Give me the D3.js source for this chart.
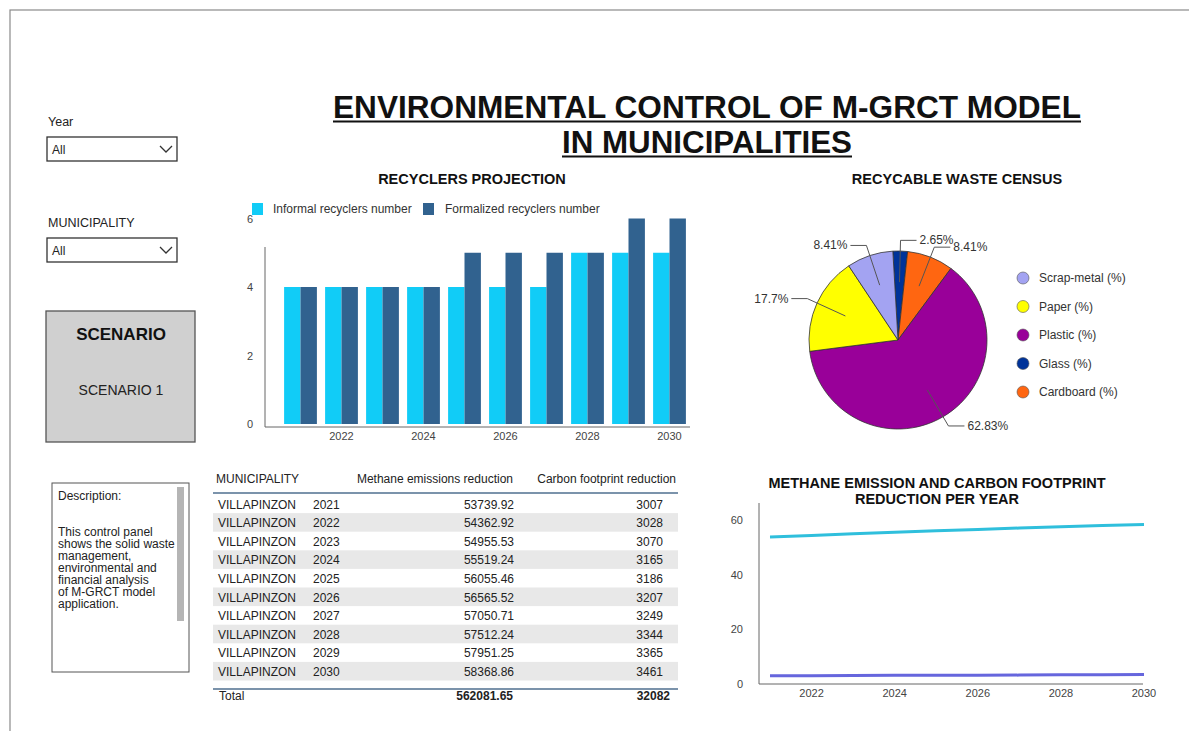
<!doctype html>
<html lang="en">
<head>
<meta charset="utf-8">
<script src="https://cdnjs.cloudflare.com/ajax/libs/d3/7.8.5/d3.min.js"></script>
<style>
  body { margin: 0; background: #fff; font-family: 'Liberation Sans', Arial, sans-serif; }
  svg text { font-family: 'Liberation Sans', Arial, sans-serif; }
  .tick-label { fill: #444; font-size: 11px; }
</style>
</head>
<body>
<script>
// ---- data ----
const years = [2021, 2022, 2023, 2024, 2025, 2026, 2027, 2028, 2029, 2030];
const informalRecyclers = [4, 4, 4, 4, 4, 4, 4, 5, 5, 5];
const formalizedRecyclers = [4, 4, 4, 4, 5, 5, 5, 5, 6, 6];
const barSeries = ["Informal recyclers number", "Formalized recyclers number"];
const barYTicks = [0, 2, 4, 6];
const barXTicks = [2022, 2024, 2026, 2028, 2030];

const wasteCats = ["Scrap-metal (%)", "Paper (%)", "Plastic (%)", "Glass (%)", "Cardboard (%)"];
const wasteShare = [8.41, 17.7, 62.83, 2.65, 8.41];
const wasteColors = ["#a3a3f2", "#ffff00", "#990099", "#003399", "#ff6611"];
const pieOrder = [3, 4, 2, 1, 0]; // drawing order, clockwise from top

const municipality = "VILLAPINZON";
const methaneReduction = [53739.92, 54362.92, 54955.53, 55519.24, 56055.46, 56565.52, 57050.71, 57512.24, 57951.25, 58368.86];
const carbonReduction = [3007, 3028, 3070, 3165, 3186, 3207, 3249, 3344, 3365, 3461];
const lineYTicks = [0, 20, 40, 60];
const lineXTicks = [2022, 2024, 2026, 2028, 2030];

const W = 1189, H = 731;
const svg = d3.select("body").append("svg").attr("width", W).attr("height", H);

// frame
svg.append("rect").attr("x", 10).attr("y", 10).attr("width", 1200).attr("height", 760)
  .attr("fill", "none").attr("stroke", "#8a8a8a").attr("stroke-width", 1.2);

// ---- main title ----
const titleLines = [
  {t: "ENVIRONMENTAL CONTROL OF M-GRCT MODEL", y: 118, w: 748},
  {t: "IN MUNICIPALITIES", y: 153, w: 290}
];
titleLines.forEach(l => {
  svg.append("text").attr("x", 707).attr("y", l.y).attr("text-anchor", "middle")
    .attr("font-family", "'Liberation Sans Narrow', 'Arial Narrow', 'Liberation Sans', sans-serif")
    .attr("font-weight", "bold").attr("font-size", 32).attr("fill", "#111")
    .attr("textLength", l.w).attr("lengthAdjust", "spacingAndGlyphs").text(l.t);
  svg.append("line").attr("x1", 707 - l.w / 2).attr("x2", 707 + l.w / 2)
    .attr("y1", l.y + 3.5).attr("y2", l.y + 3.5).attr("stroke", "#111").attr("stroke-width", 2);
});

// ---- left panel: filters ----
function dropdown(label, y) {
  svg.append("text").attr("x", 48).attr("y", y).attr("font-size", 12.5).attr("fill", "#222").text(label);
  svg.append("rect").attr("x", 47).attr("y", y + 11).attr("width", 130).attr("height", 24)
    .attr("fill", "#fff").attr("stroke", "#333").attr("stroke-width", 1.3);
  svg.append("text").attr("x", 52).attr("y", y + 28).attr("font-size", 12).attr("fill", "#222").text("All");
  svg.append("polyline").attr("points", `${160},${y + 20} ${166},${y + 26} ${172},${y + 20}`)
    .attr("fill", "none").attr("stroke", "#333").attr("stroke-width", 1.3);
}
dropdown("Year", 126);
dropdown("MUNICIPALITY", 227);

// scenario box
svg.append("rect").attr("x", 46).attr("y", 311).attr("width", 149).attr("height", 131)
  .attr("fill", "#d0d0d0").attr("stroke", "#555").attr("stroke-width", 1.3);
svg.append("text").attr("x", 121).attr("y", 340).attr("text-anchor", "middle")
  .attr("font-size", 17).attr("font-weight", "bold").attr("fill", "#111").text("SCENARIO");
svg.append("text").attr("x", 121).attr("y", 395).attr("text-anchor", "middle")
  .attr("font-size", 14).attr("fill", "#222").text("SCENARIO 1");

// description box
svg.append("rect").attr("x", 52).attr("y", 483).attr("width", 137).attr("height", 189)
  .attr("fill", "#fff").attr("stroke", "#555").attr("stroke-width", 1);
svg.append("rect").attr("x", 177).attr("y", 487).attr("width", 7).attr("height", 134).attr("fill", "#b5b5b5");
svg.append("text").attr("x", 58).attr("y", 500).attr("font-size", 12).attr("fill", "#222").text("Description:");
const descLines = ["This control panel", "shows the solid waste", "management,", "environmental and",
  "financial analysis", "of M-GRCT model", "application."];
svg.append("g").selectAll("text").data(descLines).join("text")
  .attr("x", 58).attr("y", (d, i) => 536 + i * 12).attr("font-size", 12).attr("fill", "#222").text(d => d);

// ---- bar chart ----
svg.append("text").attr("x", 472).attr("y", 184).attr("text-anchor", "middle")
  .attr("font-size", 14.5).attr("font-weight", "bold").attr("fill", "#111").text("RECYCLERS PROJECTION");

const bx = d3.scaleBand().domain(years).range([280, 690]).paddingInner(0.2).paddingOuter(0.1);
const bSub = d3.scaleBand().domain([0, 1]).range([0, bx.bandwidth()]);
const by = d3.scaleLinear().domain([0, 6]).range([424, 218.5]);
const barColors = ["#11ccf7", "#31628f"];

const barData = years.map((y, i) => ({year: y, vals: [informalRecyclers[i], formalizedRecyclers[i]]}));
const groups = svg.append("g").selectAll("g").data(barData).join("g")
  .attr("transform", d => `translate(${bx(d.year)},0)`);
groups.selectAll("rect").data(d => d.vals).join("rect")
  .attr("x", (d, i) => bSub(i)).attr("width", bSub.bandwidth())
  .attr("y", d => by(d)).attr("height", d => by(0) - by(d))
  .attr("fill", (d, i) => barColors[i]);

// axes lines
svg.append("line").attr("x1", 265).attr("x2", 690).attr("y1", 427).attr("y2", 427).attr("stroke", "#666");
svg.append("line").attr("x1", 265).attr("x2", 265).attr("y1", 247).attr("y2", 427).attr("stroke", "#666");
svg.append("g").selectAll("text").data(barYTicks).join("text").attr("class", "tick-label")
  .attr("x", 253).attr("y", d => by(d) + 4).attr("text-anchor", "end").text(d => d);
svg.append("g").selectAll("text").data(barXTicks).join("text").attr("class", "tick-label")
  .attr("x", d => bx(d) + bx.bandwidth() / 2).attr("y", 440).attr("text-anchor", "middle").text(d => d);

// legend
const bl = svg.append("g");
[[252, 273], [423, 445]].forEach((p, i) => {
  bl.append("rect").attr("x", p[0]).attr("y", 203).attr("width", 11).attr("height", 12).attr("fill", barColors[i]);
  bl.append("text").attr("x", p[1]).attr("y", 213).attr("font-size", 12).attr("fill", "#333").text(barSeries[i]);
});

// ---- pie chart ----
svg.append("text").attr("x", 957).attr("y", 184).attr("text-anchor", "middle")
  .attr("font-size", 14.5).attr("font-weight", "bold").attr("fill", "#111").text("RECYCABLE WASTE CENSUS");

const cx = 898, cy = 340, R = 89;
const pieData = pieOrder.map(i => ({name: wasteCats[i], value: wasteShare[i], color: wasteColors[i]}));
const pie = d3.pie().sort(null).value(d => d.value).startAngle(-0.058).endAngle(2 * Math.PI - 0.058);
const arcs = pie(pieData);
const arc = d3.arc().innerRadius(0).outerRadius(R);
const pg = svg.append("g").attr("transform", `translate(${cx},${cy})`);
pg.selectAll("path").data(arcs).join("path").attr("d", arc)
  .attr("fill", d => d.data.color).attr("stroke", "#333").attr("stroke-width", 0.8);

const labelFmt = v => v + "%";
arcs.forEach(a => {
  const m = (a.startAngle + a.endAngle) / 2;
  const p1 = [Math.sin(m) * R * 0.65, -Math.cos(m) * R * 0.65];
  const p2 = [Math.sin(m) * R * 1.12, -Math.cos(m) * R * 1.12];
  const right = Math.sin(m) >= 0;
  const p3 = [p2[0] + (right ? 16 : -16), p2[1]];
  pg.append("polyline").attr("points", [p1, p2, p3].map(p => p.join(",")).join(" "))
    .attr("fill", "none").attr("stroke", "#555").attr("stroke-width", 1);
  pg.append("text").attr("x", p3[0] + (right ? 3 : -3)).attr("y", p3[1] + 4)
    .attr("text-anchor", right ? "start" : "end").attr("font-size", 12).attr("fill", "#333")
    .text(labelFmt(a.data.value));
});

const pl = svg.append("g").selectAll("g").data(wasteCats).join("g")
  .attr("transform", (d, i) => `translate(1023,${278 + i * 28.5})`);
pl.append("circle").attr("r", 6).attr("fill", (d, i) => wasteColors[i]).attr("stroke", "#555").attr("stroke-width", 0.6);
pl.append("text").attr("x", 16).attr("y", 4).attr("font-size", 12).attr("fill", "#333").text(d => d);

// ---- table ----
const tg = svg.append("g").attr("font-size", 12).attr("fill", "#222");
tg.append("text").attr("x", 216).attr("y", 483).text("MUNICIPALITY");
tg.append("text").attr("x", 513).attr("y", 483).attr("text-anchor", "end").text("Methane emissions reduction");
tg.append("text").attr("x", 676).attr("y", 483).attr("text-anchor", "end").text("Carbon footprint reduction");

const rowY = d3.scaleBand().domain(years).range([494.5, 680.5]);
const rows = tg.selectAll("g.row").data(years).join("g").attr("class", "row")
  .attr("transform", d => `translate(0,${rowY(d)})`);
rows.filter((d, i) => i % 2 === 1).append("rect").attr("x", 213).attr("width", 465)
  .attr("height", rowY.bandwidth()).attr("fill", "#e8e8e8");
rows.append("text").attr("x", 218).attr("y", 14).text(municipality);
rows.append("text").attr("x", 313).attr("y", 14).text(d => d);
rows.append("text").attr("x", 514).attr("y", 14).attr("text-anchor", "end")
  .text((d, i) => methaneReduction[i].toFixed(2));
rows.append("text").attr("x", 663).attr("y", 14).attr("text-anchor", "end")
  .text((d, i) => carbonReduction[i]);

tg.append("line").attr("x1", 213).attr("x2", 678).attr("y1", 493).attr("y2", 493).attr("stroke", "#4f6f8f").attr("stroke-width", 1.5);
tg.append("line").attr("x1", 213).attr("x2", 678).attr("y1", 689).attr("y2", 689).attr("stroke", "#4f6f8f").attr("stroke-width", 1.5);
tg.append("text").attr("x", 219).attr("y", 700).text("Total");
tg.append("text").attr("x", 513).attr("y", 700).attr("text-anchor", "end").attr("font-weight", "bold")
  .text(d3.sum(methaneReduction).toFixed(2));
tg.append("text").attr("x", 670).attr("y", 700).attr("text-anchor", "end").attr("font-weight", "bold")
  .text(d3.sum(carbonReduction));

// ---- line chart ----
const lt = svg.append("text").attr("x", 937).attr("text-anchor", "middle")
  .attr("font-size", 14.5).attr("font-weight", "bold").attr("fill", "#111");
lt.append("tspan").attr("x", 937).attr("y", 488).text("METHANE EMISSION AND CARBON FOOTPRINT");
lt.append("tspan").attr("x", 937).attr("y", 504).text("REDUCTION PER YEAR");

const lx = d3.scaleLinear().domain([2021, 2030]).range([770, 1144]);
const ly = d3.scaleLinear().domain([0, 60]).range([684, 520]);
svg.append("line").attr("x1", 759).attr("x2", 1143).attr("y1", 684).attr("y2", 684).attr("stroke", "#666");
svg.append("line").attr("x1", 759).attr("x2", 759).attr("y1", 503).attr("y2", 684).attr("stroke", "#666");
svg.append("g").selectAll("text").data(lineYTicks).join("text").attr("class", "tick-label")
  .attr("x", 743).attr("y", d => ly(d) + 4).attr("text-anchor", "end").text(d => d);
svg.append("g").selectAll("text").data(lineXTicks).join("text").attr("class", "tick-label")
  .attr("x", d => lx(d)).attr("y", 697).attr("text-anchor", "middle").text(d => d);

const line = d3.line().x(d => lx(d[0])).y(d => ly(d[1]));
const lineSeries = [
  {vals: years.map((y, i) => [y, methaneReduction[i] / 1000]), color: "#2fbfdc"},
  {vals: years.map((y, i) => [y, carbonReduction[i] / 1000]), color: "#6666dd"}
];
svg.append("g").selectAll("path").data(lineSeries).join("path")
  .attr("d", d => line(d.vals)).attr("fill", "none").attr("stroke", d => d.color).attr("stroke-width", 3);
</script>
</body>
</html>
